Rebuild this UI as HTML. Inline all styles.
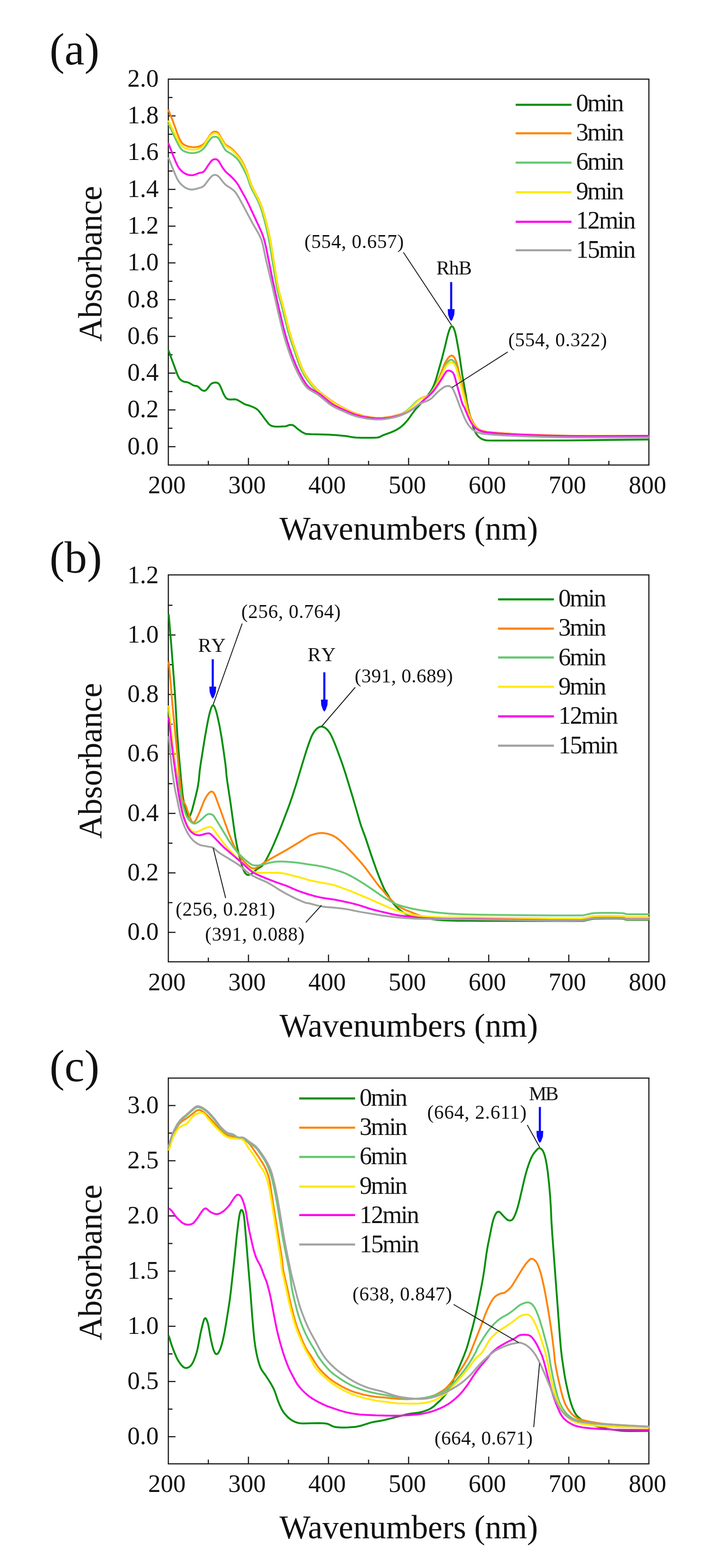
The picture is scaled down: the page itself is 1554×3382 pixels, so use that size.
<!DOCTYPE html>
<html lang="en">
<head>
<meta charset="utf-8">
<title>UV-vis absorbance spectra</title>
<style>
html,body{margin:0;padding:0;background:#fff;}
body{width:1554px;height:3382px;overflow:hidden;}
svg{display:block;font-family:'Liberation Serif', 'DejaVu Serif', serif;}
</style>
</head>
<body>
<svg width="1554" height="3382" viewBox="0 0 1554 3382">
<rect width="1554" height="3382" fill="#ffffff"/>
<g id="chart-a">
<g stroke="#1c1c1c" stroke-width="2.5" fill="none">
<line x1="363.3" y1="963.4" x2="378.8" y2="963.4"/>
<line x1="363.3" y1="884.1" x2="378.8" y2="884.1"/>
<line x1="363.3" y1="804.8" x2="378.8" y2="804.8"/>
<line x1="363.3" y1="725.6" x2="378.8" y2="725.6"/>
<line x1="363.3" y1="646.3" x2="378.8" y2="646.3"/>
<line x1="363.3" y1="567" x2="378.8" y2="567"/>
<line x1="363.3" y1="487.8" x2="378.8" y2="487.8"/>
<line x1="363.3" y1="408.5" x2="378.8" y2="408.5"/>
<line x1="363.3" y1="329.2" x2="378.8" y2="329.2"/>
<line x1="363.3" y1="250" x2="378.8" y2="250"/>
<line x1="363.3" y1="923.7" x2="372.3" y2="923.7"/>
<line x1="363.3" y1="844.5" x2="372.3" y2="844.5"/>
<line x1="363.3" y1="765.2" x2="372.3" y2="765.2"/>
<line x1="363.3" y1="685.9" x2="372.3" y2="685.9"/>
<line x1="363.3" y1="606.7" x2="372.3" y2="606.7"/>
<line x1="363.3" y1="527.4" x2="372.3" y2="527.4"/>
<line x1="363.3" y1="448.1" x2="372.3" y2="448.1"/>
<line x1="363.3" y1="368.9" x2="372.3" y2="368.9"/>
<line x1="363.3" y1="289.6" x2="372.3" y2="289.6"/>
<line x1="363.3" y1="210.3" x2="372.3" y2="210.3"/>
<line x1="536.2" y1="1003" x2="536.2" y2="987.5"/>
<line x1="709" y1="1003" x2="709" y2="987.5"/>
<line x1="881.9" y1="1003" x2="881.9" y2="987.5"/>
<line x1="1054.8" y1="1003" x2="1054.8" y2="987.5"/>
<line x1="1227.6" y1="1003" x2="1227.6" y2="987.5"/>
<line x1="449.7" y1="1003" x2="449.7" y2="994"/>
<line x1="622.6" y1="1003" x2="622.6" y2="994"/>
<line x1="795.5" y1="1003" x2="795.5" y2="994"/>
<line x1="968.3" y1="1003" x2="968.3" y2="994"/>
<line x1="1141.2" y1="1003" x2="1141.2" y2="994"/>
<line x1="1314.1" y1="1003" x2="1314.1" y2="994"/>
<rect x="363.3" y="170.7" width="1037.2" height="832.3"/>
</g>
<clipPath id="clip-a"><rect x="361.3" y="170.7" width="1040.2" height="832.3"/></clipPath>
<g clip-path="url(#clip-a)" fill="none" stroke-width="4.0" stroke-linejoin="round" stroke-linecap="butt">
<path stroke="#008f08" d="M363.2,754.6 383.3,809 385,812.7 387,816.1 388.9,818.4 391.2,820.3 393.7,821.9 396.5,823.1 398.4,823.6 403.3,824.3 406.2,825.1 408.9,826.3 415.8,830.4 418.5,831.6 420.4,832.1 424.4,832.5 426.2,833.2 428.6,834.9 432.8,839.2 435.2,841 437.8,842.4 439.7,842.9 440.6,843 441.6,842.9 443.4,842.3 445.7,840.5 447.7,838.2 453.6,830.1 455.7,828.1 457.3,826.9 460.1,825.8 464,825.1 467,825.2 469.8,826 472.2,827.8 473.4,829.3 474.5,831 476.6,835.5 481.2,846.6 483.2,851.1 486.3,856.3 487.5,857.9 488.9,859.3 491.4,860.8 494.2,861.6 497.2,861.7 506.2,861.2 509.2,861.6 511.1,862.1 514.7,863.9 525.8,870.5 528.5,871.9 530.3,872.6 536.1,874.2 539.9,875.5 547.3,878.5 552.6,881.3 555.9,883.6 559.3,887.2 563,891.9 570.7,902.4 579.9,914.2 582.9,916.8 585.5,918.3 589.4,919.4 593.3,919.9 598.3,920.2 605.3,920.1 616.3,919.4 618.2,919.1 622.8,917.1 624.7,916.6 627.7,916.4 630.6,916.7 632.5,917.2 635.1,918.7 643.4,925.9 652.4,932.3 656.8,934.6 659.6,935.6 661.6,935.9 671.5,936.5 709.5,937.6 725.5,938.6 746.4,940.5 751.4,941.3 761.2,943.1 768.2,943.8 780.2,944.2 794.2,944.3 805.2,944.2 813.2,943.8 816.1,943.5 819,942.7 827,938.6 843,932.8 849.5,930.1 854.9,927.5 859.2,925 863.4,922.3 867.3,919.2 873.1,913.7 879.1,907 882.2,903.1 889.7,892.4 896.9,882.8 898.9,880.6 903.1,876.3 917.6,859.8 923.9,852 928.6,845.5 932.3,839.6 935,834.2 937.7,827.8 940.4,820.2 943.3,810.7 953.6,774.1 960.6,747 965.4,726.5 967.5,718.8 970,711.2 972,706.6 973.1,705 973.7,704.3 974.5,703.9 975.3,703.8 976.1,704 977.5,705.1 979.1,707.6 980.3,710.3 982.4,717 984.8,727.8 990.2,757.3 997.5,806.8 1005.8,854 1007.7,866.9 1011.2,883.6 1015.7,902 1018.4,911.7 1021.1,920.2 1023.5,926.8 1026,932.3 1028.5,936.6 1031.6,940.5 1035.3,943.9 1038.6,946.1 1041.3,947.4 1044.1,948.5 1048.9,949.7 1053.9,950.1 1064.9,950.3 1221,950.1 1301,949 1401,948"/>
<path stroke="#ff8402" d="M363.2,236.5 372.9,260.6 382.4,287 387.3,299 389,302.6 391,306.1 393.5,309.2 395.8,311.1 399.2,313.2 403.8,315.1 408.6,316.5 413.6,317.3 418.5,317.5 423.5,317.2 428.4,316.2 432.2,314.9 435,313.7 437.5,312.2 439.9,310.4 442,308.3 443.9,305.9 448.6,298.3 453.1,291.7 455.5,288.5 457.6,286.3 460.1,284.7 461.9,284.1 464.9,283.9 466.8,284.2 467.8,284.5 469.5,285.4 470.9,286.8 472.2,288.3 482.8,306.4 484.4,308.9 486.3,311.3 487.7,312.7 489.3,313.9 495.4,317.3 497.9,319 501.6,322.3 505.9,326.5 511.3,332.4 516.4,338.6 519.8,343.5 522.9,348.6 527.9,358.5 533,370.4 535,376.1 540.5,393.2 543.8,401.6 547.7,409.7 557.4,428.3 561.6,437.4 565.9,448.6 570,462 573.7,475.5 577.1,489.1 580.4,503.7 583.3,517.4 586,533.2 597.4,604.3 600,618.1 602.3,628.8 604.3,636.6 611.1,660.6 621.1,701.5 625.5,717.9 630.3,733.1 647.9,784.2 650.1,789.8 652.5,795.3 655.2,800.7 658.6,806.8 662.4,812.7 666.3,818.5 671,824.9 675.4,830.4 682.8,838.5 687.1,842.7 691.6,846.7 702.6,855.4 715.6,864.7 724.8,870.7 735.2,876.7 746.7,882.8 756.7,887.5 765.9,891.3 775.4,894.5 785,897.2 793.8,899.1 802.7,900.5 811.7,901.4 819.6,901.6 826.6,901.2 835.6,900.1 846.4,898.1 858.1,895.3 865.7,892.9 869.4,891.4 872.9,889.5 876.3,887.4 879.5,885 888.6,877.1 899.8,865.7 905.3,861.4 908.6,859.2 912.2,857.5 918.9,855.5 922.6,854 927.6,850.8 930.5,848 932.9,844.8 934.9,841.4 938.2,835.2 942.1,827 950.3,808.8 958.7,787.4 960.7,782.8 962.5,779.3 966.3,773.4 969.6,769.6 971.1,768.4 972.8,767.4 974.7,767 975.7,767.1 976.6,767.4 978.2,768.4 979.6,769.8 980.8,771.4 982.2,774 983.5,776.8 985.8,783.4 988.1,792.1 994.7,820.3 1006.3,866.9 1009.9,882.5 1011.8,889.2 1014.6,896.7 1017.3,903.2 1020.2,909.6 1022.5,914 1025.3,918.2 1027.8,921.2 1030.7,924 1034.1,926.2 1038.6,928.3 1043.3,930 1049.1,931.2 1059.1,932.3 1076,933.8 1094,935.1 1114,936.2 1162.9,938.1 1208.9,939.4 1242.9,939.9 1401,940"/>
<path stroke="#66c874" d="M363.2,266.2 381.5,305.2 385.6,313.2 388.1,317.5 390.4,320.7 393.2,323.6 395.7,325.3 399.3,327 404,328.6 408.9,329.7 412.8,330.2 416.8,330.2 420.8,329.8 425.7,328.7 429.4,327.4 432.1,326 435.5,323.9 437.8,322 440.7,319.2 443.8,315.3 448,308.5 450.9,304.4 453.9,300.5 456.6,297.5 459,295.8 460.8,295 463.7,294.7 466.7,295 468.5,295.7 469.3,296.2 470.8,297.5 472.1,299 474.7,303.3 483.9,319.9 485.5,322.4 486.8,323.9 488.2,325.3 489.8,326.5 495.9,329.9 500.1,332.7 505,336.2 508.8,339.4 511.6,342.2 514.1,345.3 517,349.4 520.1,354.5 526.4,365.9 532.1,377.6 534.6,384.1 538.6,396.5 541.7,403.9 544.7,410.2 554,427.9 557.9,436 562.7,448.1 567,461.4 570.7,474.9 574.1,488.5 577.5,503.1 580.6,517.8 583.4,533.6 595.1,606.6 597.4,619.4 599.8,630.2 602,638.9 608.6,662 618.6,702.8 623.3,720.1 628.1,735.4 636.3,759 643,778.9 646,787.4 648.3,793 650.8,798.4 653.5,803.7 657,809.8 660.8,815.7 666,823 670.2,828.6 674.7,834 678.8,838.4 683,842.7 692,850.6 703.9,859.8 717,868.9 726.4,874.7 736.9,880.5 747.6,885.9 756.7,890.1 765.1,893.4 774.5,896.5 783.2,898.9 792,900.8 800.9,902.1 808.9,902.9 816.9,903.1 823.9,902.8 832.8,901.7 842.6,899.9 854.3,897.2 862,894.9 866.6,893 870.2,891.2 873.6,889.1 876.8,886.7 886.6,878.2 897.1,867.4 900.1,864.9 903.4,862.5 906.8,860.4 909.4,859.1 911.3,858.4 917.1,856.8 919.8,855.6 924,852.9 927.7,849.6 930.9,845.7 935.9,838.2 941.6,828.8 947.6,818.4 952.1,809.5 960.3,790.2 963.2,784.9 966.1,780.8 968.8,778 971.3,776.4 973.2,775.9 974.1,776 976,776.5 977.6,777.6 979,779 980.2,780.6 982.6,784.9 985,791.5 988,802.1 1003.9,864.1 1005.5,870.9 1008.7,886.6 1010.5,892.3 1013.4,899.7 1016.2,906.2 1019.4,912.4 1021.9,916.7 1024.8,920.8 1027.5,923.8 1030.5,926.3 1034,928.3 1038.5,930.4 1043.3,931.9 1048.2,932.7 1076.1,935.2 1110,937.4 1147,938.9 1215,940.7 1271,941.7 1318,942.1 1401,942"/>
<path stroke="#ffe905" d="M363.2,260 380.8,296 387,307.4 389.1,310.8 391.6,313.9 393.8,316 397.1,318.2 400.7,319.9 404.5,321.2 409.3,322.3 413.3,322.8 417.3,322.9 422.3,322.5 426.2,321.7 430,320.4 432.6,319 436,316.9 439,314.3 441.1,312.1 443.4,308.8 447.8,301 449.4,298.4 453,293.7 456.4,290 458.8,288.3 460.7,287.5 463.6,287.1 466.5,287.4 468.4,288.1 469.2,288.6 470.7,289.8 472,291.3 473.7,293.8 483.4,310.1 486.4,314.1 487.9,315.5 489.5,316.7 494.7,319.5 497.2,321.2 500.3,323.8 504.6,327.9 510.1,333.7 515.3,339.9 518.8,344.7 522,349.8 527.2,359.5 532.5,371.3 535,377.9 540.7,394.9 544.1,403.3 547.6,410.5 557.3,429.1 561.1,437.3 565.8,449.4 569.7,461.8 573.4,475.3 576.8,488.9 580.2,503.5 583.2,518.2 586,534 597.4,605.1 599.9,618.9 602.3,629.6 604.5,638.3 611.1,661.4 621.1,702.2 625.7,719.6 630.6,734.9 638.8,758.5 645.5,778.4 648.5,786.9 650.8,792.5 653.3,797.9 656,803.2 659.6,809.3 663.3,815.2 667.9,821.7 672.1,827.4 676.6,832.8 680.6,837.2 684.8,841.5 693.8,849.5 705.6,858.7 718.7,867.8 728.1,873.7 737.6,879.1 748.3,884.6 758.3,889.2 766.7,892.5 776.1,895.8 784.8,898.2 793.6,900.1 802.5,901.5 810.5,902.3 818.4,902.6 825.4,902.3 833.4,901.5 843.2,899.7 855,897.1 863.6,894.7 868.3,892.9 871.9,891.1 875.3,889.1 878.6,886.7 888.4,878.3 899.7,866.9 902.7,864.3 905.9,861.9 909.3,859.8 912,858.5 913.9,857.9 918.7,856.6 921.5,855.5 925.8,853 928.2,851.2 929.6,849.8 931.6,847.5 934,844.3 940,833.9 949.9,815.4 958.9,796.4 962.4,790.3 965.4,786.4 968.3,783.7 970.9,782.3 972.8,781.8 973.8,781.8 975.7,782.2 977.5,783 979.1,784.2 980.4,785.6 981.6,787.2 983,789.9 985.2,795.5 988.6,807 996.9,837.9 1005,869.9 1008.6,885.5 1011.2,893 1015.4,903.2 1018.4,909.5 1020.8,913.9 1023.5,918.1 1026,921.2 1028.9,924 1031.3,925.8 1034.8,927.7 1039.4,929.7 1044.2,931.1 1050.1,932.1 1083,934.9 1118.9,937 1164.9,938.7 1216.9,940.1 1254.9,940.8 1316,941 1401,941"/>
<path stroke="#ff05ee" d="M363.2,308.1 373.2,334.3 379.3,349.1 383.1,357.2 386.2,362.4 389.4,366.3 393.7,370.4 396,372.3 398.5,373.9 402.1,375.7 406.9,377.2 410.8,378 414.8,378 416.8,377.8 419.7,377 429.9,373.1 435.8,372 437.7,371.4 440.1,369.7 442.1,367.5 448.1,358.3 453.3,350.9 455.1,348.5 457.1,346.3 459.4,344.5 461.3,343.7 463.2,343.4 466.1,343.5 468,344 468.9,344.5 470.4,345.7 471.7,347.2 473.4,349.7 479.4,360.1 482.8,365.1 485.9,369 489.4,372.5 497,379 504.1,386.1 509.4,392.1 513.5,397.8 530.1,427.4 536.8,440.8 562.5,496.2 566,504.5 569,513 571.5,521.7 574,532.4 589.3,607.9 595.6,637.2 602.2,666.5 612,707.4 617.5,727.7 624.3,749.6 631.3,769.5 638,786.2 641.7,794.4 645.1,801.6 653.7,817.5 658.9,826 661.9,830 664.6,833 667.4,835.8 671.4,838.8 674.8,840.9 685.3,846.8 690.3,850.1 695.8,854.4 710.4,866.6 715.2,870.2 719.4,873 725.5,876.4 732.7,879.9 752.8,888.9 762,892.7 768.6,895 775.3,897 782.1,898.6 790,900.1 799.9,901.5 809.9,902.4 817.9,902.7 825.9,902.5 833.9,901.8 842.8,900.4 853.5,898.2 862.2,896 869.8,893.4 877.2,890.2 884.2,886.4 891.8,881.6 895.9,878.7 899.1,876.3 925,854.3 929.4,850.2 932.9,846.6 936.1,842.8 939.7,838 944.2,831.3 952.9,817.9 960,805.8 962.3,802.5 963.6,801.1 965.2,799.9 967,799.3 968.9,799.2 970.9,799.6 972.7,800.3 975.3,801.8 976.8,803.1 978,804.6 979.9,808.1 982.1,814.8 986,829.3 993.8,857.2 997.8,870.6 999,873.4 1001.1,876.8 1002.5,879.4 1010.5,898.8 1014.4,907 1016.9,911.3 1019.6,915.5 1022.7,919.4 1025.5,922.3 1028.5,924.9 1031,926.5 1034.6,928.3 1038.3,929.7 1045.1,931.5 1051,932.5 1063,933.7 1083.9,935.4 1101.9,936.6 1119.9,937.5 1168.9,939.2 1224.9,940.5 1269.9,941 1319,940.9 1401,940"/>
<path stroke="#a3a3a3" d="M363.2,339.2 371,358.7 378.2,376.3 381,382.7 383.7,388.1 387,393.1 391,397.6 396.2,402.2 398.7,404 401.2,405.5 404.9,407.1 408.7,408.3 411.7,408.7 415.7,408.7 419.6,408.2 423.5,407.3 433.1,404.6 436,403.6 438.6,402.1 441.5,399.5 449.9,388.3 453.7,383.6 456.4,380.7 458.7,378.8 460.5,377.9 462.4,377.3 465.3,377.3 468.1,378.1 469.8,379.1 471.4,380.3 474.1,383.2 482.8,394.2 485.5,397.2 489.3,400.4 498.6,406.3 503.4,410 505.6,412 507.6,414.2 511.2,419 515.3,425.9 526.3,446.1 546,483.2 558.2,503.9 561.7,511.1 564.6,518.5 566.3,524.3 567.8,530.1 574.2,560.5 588.3,619.8 600,671.6 606.7,699.8 610.8,716.3 616.5,736.5 623.6,758.4 630.5,777.2 637,792.9 643.6,806.4 651.7,821.3 656.6,828.9 659,832.1 661.6,835.1 664.5,837.8 668.5,840.8 682.4,848.9 687.4,852.2 692.9,856.5 708.3,869.3 713.1,872.9 718.2,876 723.5,878.9 729.8,882 755.4,893.3 761,895.4 766.7,897.4 772.4,899 778.3,900.4 786.1,901.9 795.1,903.2 804,904.2 812,904.7 819,904.7 825,904.4 832,903.7 838.9,902.6 851.6,900 861.3,897.3 869.7,894.2 877.8,890.3 883.9,886.8 890.6,882.4 893.7,879.9 900.6,874.1 903.9,871.9 907.5,870.2 915,867.4 922.4,864.4 926,862.6 928.6,861.1 931,859.4 933.3,857.4 941.5,848.7 944.4,845.9 949.7,841.3 953.6,838.2 957.8,835.4 961.3,833.6 964.2,832.7 967.1,832.5 969.1,832.8 971,833.3 973.6,834.7 975.1,836 976.5,837.5 978.5,840.9 980.6,845.4 985.1,856.6 991.7,874.4 1000.9,897.7 1003.4,903.1 1005.6,907.6 1008.1,911.9 1010.7,916.2 1013.1,919.4 1015.7,922.5 1018.5,925.3 1021.6,927.8 1025,929.9 1028.6,931.6 1033.3,933.4 1037.1,934.5 1043,935.7 1051,936.6 1065.9,937.7 1085.9,938.9 1127.9,940.8 1180.9,942.4 1217.9,943.2 1244.9,943.5 1401,943.5"/>
</g>
<g font-size="54">
<text x="342.5" y="979.6" font-size="54" text-anchor="end" fill="#111111">0.0</text>
<text x="342.5" y="900.3" font-size="54" text-anchor="end" fill="#111111">0.2</text>
<text x="342.5" y="821" font-size="54" text-anchor="end" fill="#111111">0.4</text>
<text x="342.5" y="741.8" font-size="54" text-anchor="end" fill="#111111">0.6</text>
<text x="342.5" y="662.5" font-size="54" text-anchor="end" fill="#111111">0.8</text>
<text x="342.5" y="583.2" font-size="54" text-anchor="end" fill="#111111">1.0</text>
<text x="342.5" y="504" font-size="54" text-anchor="end" fill="#111111">1.2</text>
<text x="342.5" y="424.7" font-size="54" text-anchor="end" fill="#111111">1.4</text>
<text x="342.5" y="345.4" font-size="54" text-anchor="end" fill="#111111">1.6</text>
<text x="342.5" y="266.2" font-size="54" text-anchor="end" fill="#111111">1.8</text>
<text x="342.5" y="186.9" font-size="54" text-anchor="end" fill="#111111">2.0</text>
<text x="360.3" y="1064" font-size="54" text-anchor="middle" textLength="81" lengthAdjust="spacing" fill="#111111">200</text>
<text x="533.2" y="1064" font-size="54" text-anchor="middle" textLength="81" lengthAdjust="spacing" fill="#111111">300</text>
<text x="706" y="1064" font-size="54" text-anchor="middle" textLength="81" lengthAdjust="spacing" fill="#111111">400</text>
<text x="878.9" y="1064" font-size="54" text-anchor="middle" textLength="81" lengthAdjust="spacing" fill="#111111">500</text>
<text x="1051.8" y="1064" font-size="54" text-anchor="middle" textLength="81" lengthAdjust="spacing" fill="#111111">600</text>
<text x="1224.6" y="1064" font-size="54" text-anchor="middle" textLength="81" lengthAdjust="spacing" fill="#111111">700</text>
<text x="1397.5" y="1064" font-size="54" text-anchor="middle" textLength="81" lengthAdjust="spacing" fill="#111111">800</text>
</g>
<text x="603.2" y="1164" font-size="71" text-anchor="start" textLength="558" lengthAdjust="spacing" fill="#111111">Wavenumbers (nm)</text>
<text transform="translate(218.5 568.9) rotate(-90)" font-size="71" text-anchor="middle" textLength="336" lengthAdjust="spacing" fill="#111111">Absorbance</text>
<text x="107" y="138.5" font-size="97" text-anchor="start" fill="#111111">(a)</text>
</g>
<g id="chart-b">
<g stroke="#1c1c1c" stroke-width="2.5" fill="none">
<line x1="363.3" y1="2011" x2="378.8" y2="2011"/>
<line x1="363.3" y1="1882.7" x2="378.8" y2="1882.7"/>
<line x1="363.3" y1="1754.4" x2="378.8" y2="1754.4"/>
<line x1="363.3" y1="1626.2" x2="378.8" y2="1626.2"/>
<line x1="363.3" y1="1497.9" x2="378.8" y2="1497.9"/>
<line x1="363.3" y1="1369.6" x2="378.8" y2="1369.6"/>
<line x1="363.3" y1="1946.9" x2="372.3" y2="1946.9"/>
<line x1="363.3" y1="1818.6" x2="372.3" y2="1818.6"/>
<line x1="363.3" y1="1690.3" x2="372.3" y2="1690.3"/>
<line x1="363.3" y1="1562" x2="372.3" y2="1562"/>
<line x1="363.3" y1="1433.7" x2="372.3" y2="1433.7"/>
<line x1="363.3" y1="1305.5" x2="372.3" y2="1305.5"/>
<line x1="536.2" y1="2074.5" x2="536.2" y2="2059"/>
<line x1="709" y1="2074.5" x2="709" y2="2059"/>
<line x1="881.9" y1="2074.5" x2="881.9" y2="2059"/>
<line x1="1054.8" y1="2074.5" x2="1054.8" y2="2059"/>
<line x1="1227.6" y1="2074.5" x2="1227.6" y2="2059"/>
<line x1="449.7" y1="2074.5" x2="449.7" y2="2065.5"/>
<line x1="622.6" y1="2074.5" x2="622.6" y2="2065.5"/>
<line x1="795.5" y1="2074.5" x2="795.5" y2="2065.5"/>
<line x1="968.3" y1="2074.5" x2="968.3" y2="2065.5"/>
<line x1="1141.2" y1="2074.5" x2="1141.2" y2="2065.5"/>
<line x1="1314.1" y1="2074.5" x2="1314.1" y2="2065.5"/>
<rect x="363.3" y="1240" width="1037.2" height="834.5"/>
</g>
<clipPath id="clip-b"><rect x="361.3" y="1240" width="1040.2" height="834.5"/></clipPath>
<g clip-path="url(#clip-b)" fill="none" stroke-width="4.0" stroke-linejoin="round" stroke-linecap="butt">
<path stroke="#008f08" d="M364.1,1324.6 369.6,1390.4 376.5,1481.1 378.2,1506.1 381.9,1571 383.8,1599.9 386.7,1634.8 392.2,1696.5 394.1,1714.4 396,1726.3 398.1,1735 404.1,1755.2 405.3,1759 406.2,1760.7 406.7,1761.4 407.4,1761.7 408.1,1761.7 408.7,1761.4 409.3,1760.7 410.3,1759 413.2,1751.6 415,1745.9 422.5,1716.8 425.9,1702.2 427.9,1691.4 429,1683.5 431,1662.5 433.4,1645.7 442.1,1591.4 445.6,1571.7 448.5,1556 450.6,1546.2 452.4,1538.4 454.3,1531.7 456.2,1526 457.5,1523.3 458.6,1521.8 459.3,1521.3 460.1,1521.2 460.8,1521.4 461.5,1521.9 463.1,1524.4 464.5,1528.1 467,1535.7 469,1543.4 473.7,1565 477.9,1588.6 482.1,1616.3 486.4,1647 487.5,1656.9 488.9,1672.8 490.4,1684.7 497.9,1734.2 506.1,1793.6 508.3,1807.5 510.6,1820.2 513,1832 516.3,1845.6 519.3,1857.2 522.5,1867.8 524.8,1874.4 527.2,1879.9 529.3,1883.3 530.6,1884.8 532.1,1886 533.8,1886.9 534.8,1887 536.7,1887 539.6,1886.2 542.3,1884.9 544.8,1883.3 546.4,1882.1 554.5,1874.7 557,1873.1 562.3,1870.2 564.7,1868.4 567.4,1865.5 570.8,1860.6 574.9,1853.7 579.5,1844.8 584.9,1834.1 589.1,1825 601.6,1795.6 609.7,1775.1 623.9,1737.7 630.8,1717.9 639.4,1691.2 652.6,1647.2 661.5,1618.5 667.3,1601.5 671.2,1591.2 673.7,1585.7 676.1,1581.3 678.8,1577.2 682.1,1573.4 685,1570.7 688.4,1568.5 690.2,1567.8 692.1,1567.3 695.1,1567.2 697,1567.6 698.9,1568.3 700.6,1569.2 703.1,1570.9 706.8,1574.2 710.5,1578.9 713.7,1584.1 716.8,1590.3 721.5,1601.3 725.6,1611.6 737.7,1644.4 745.3,1667.2 760.2,1715.9 770.1,1749.5 776.7,1772.6 779.7,1782.1 788.7,1806.5 801.3,1844.5 811.9,1874.7 818.7,1892.4 827.6,1913.7 830.6,1919.9 833.9,1925 841.6,1937.8 845.4,1943.7 849.6,1949.3 854.8,1955.4 859.9,1960.2 866.1,1965.2 871.9,1969.1 877.3,1971.8 882.9,1974 889.6,1975.7 900.4,1977.9 943,1984 956,1985 969.9,1985.6 989.9,1985.9 1032.9,1986.2 1255,1986.6 1258,1986.5 1260.9,1986 1276.5,1982.4 1280.5,1981.8 1287.4,1981.4 1306.4,1981.2 1329.4,1981.2 1343.4,1981.5 1346.4,1982 1351,1983.6 1353,1983.9 1356,1984.1 1401,1984"/>
<path stroke="#ff8402" d="M364.1,1427.3 368,1468.1 370.8,1504 372.6,1524.9 382.4,1622.5 388.1,1682.2 391.6,1714 392.6,1720.9 393.7,1724.8 395,1727.5 398.8,1733.3 400.6,1736.9 402.3,1741.6 408.3,1759.6 412.7,1769.7 414.1,1772.4 415.4,1773.8 416.1,1774.2 417,1774.4 417.8,1774.3 419.4,1773.3 420.7,1771.8 422.8,1768.5 425.1,1764 431.8,1749.5 440.1,1728.1 442.8,1722.7 445.8,1717.5 448.1,1714.2 450.6,1711.1 452.7,1709 454.4,1707.9 456.2,1707.3 457.1,1707.3 458.9,1707.9 460.4,1709.1 462.6,1712.4 465.1,1717.9 476.5,1748.9 491.6,1791.2 500,1812.7 503.1,1820 506.1,1826.3 510.3,1834.3 514.9,1842.1 519.2,1848.8 523.3,1854.5 527.2,1859 532.2,1864 537.5,1868.5 541.6,1871.3 543.4,1872.2 545.3,1872.8 548.2,1873.2 551.2,1872.7 553.9,1871.6 561.5,1866.8 570.5,1860.4 575.5,1857.2 620,1832.2 644,1817.7 663.5,1805.5 668.7,1802.5 671.4,1801.4 677.2,1799.6 682,1798.3 685.9,1797.5 688.9,1797 692.9,1796.8 696.9,1796.8 700.8,1797.2 705.8,1798.1 711.5,1799.6 717.1,1801.8 721.6,1804.1 726.6,1807.3 732.2,1811.6 738.2,1816.8 744,1822.3 764,1843.4 774.7,1855.3 782.5,1864.4 790,1873.8 813.2,1905.1 818.7,1912.2 823.6,1917.3 832.4,1928.1 837.7,1934.1 847.4,1944.2 854,1950.4 857.9,1953.4 862.1,1956.1 866.6,1958.5 874.7,1962.4 900.7,1972.8 906.3,1974.8 912.1,1976.5 918,1977.7 926.9,1978.5 939.9,1979.2 955.9,1979.6 1029.9,1980.2 1181.9,1981 1255.9,1981.1 1260.9,1980.5 1279.4,1976.4 1284.4,1976 1295.4,1975.8 1322.4,1975.7 1342.4,1976 1346.4,1976.5 1350.1,1977.8 1352,1978.3 1356,1978.6 1401,1978.5"/>
<path stroke="#66c874" d="M364.1,1530 370.2,1587.7 373.7,1616.5 379.4,1655.1 388.7,1711.4 389.9,1718.3 391.3,1724.1 396.1,1741.5 400.1,1753.8 402,1758.5 403.8,1762.1 405.9,1765.5 407.6,1767.9 410.3,1770.9 412.5,1773 414.9,1774.8 416.6,1775.7 418.5,1776.3 420.4,1776.3 422.3,1775.9 424.1,1775.1 429.3,1772.1 431.6,1770.2 443.4,1759.4 445.8,1757.6 447.5,1756.6 450.3,1755.7 453.3,1755.7 456.2,1756.4 458.9,1757.7 461.1,1759.7 462.8,1762.1 478.6,1787.6 489.8,1806.6 494.5,1814.2 500.8,1823.3 506.8,1831.3 511.3,1836.7 515.3,1841.1 519.5,1845.5 524.5,1850.3 532.1,1856.9 536.7,1860.6 540.8,1863.5 544.4,1865.3 547.2,1866.2 550.2,1866.7 553.2,1866.7 558.2,1866.4 563.1,1865.6 584.5,1860.4 591.4,1859.1 596.3,1858.5 602.3,1858.2 609.3,1858.2 616.3,1858.4 627.3,1859.2 644.2,1861.1 668,1864.7 684.8,1867.1 696.6,1869.2 710.3,1872.4 725.7,1876.8 738,1880.8 747.3,1884.5 757.2,1889.4 770.2,1896.8 784.7,1905.7 803.9,1918.5 821.9,1931.1 829.5,1936 844.1,1944.6 850.4,1947.8 855.8,1950.3 862.4,1952.7 869.1,1954.8 883.6,1958.5 892.4,1960.5 900.3,1962 911.1,1963.8 936.9,1967.5 950.8,1969 965.8,1970.3 982.7,1971.3 1004.7,1972.2 1041.8,1973 1126.8,1973.9 1190.8,1974.5 1255.9,1974.5 1260.8,1973.9 1276.4,1970.3 1280.4,1969.7 1286.4,1969.3 1300.4,1969.1 1324.4,1969.1 1342.4,1969.4 1346.3,1969.9 1350.1,1971.2 1352,1971.7 1356,1972 1401,1971.9"/>
<path stroke="#ffe905" d="M364.1,1521.9 369.5,1576.7 372.9,1608.5 380.8,1674 386.5,1717.7 387.9,1725.6 389.6,1733.4 391.9,1743.1 394.8,1753.8 397.3,1762.4 399.5,1769.1 401.3,1773.7 403.4,1778.3 405.4,1781.7 407,1784.2 409.5,1787.4 412.2,1790.3 414.5,1792.2 416.2,1793.3 419,1794.4 420.9,1794.7 423.9,1794.6 426.7,1793.7 434.9,1789.8 443.1,1786.2 448.7,1784.2 451.7,1783.6 453.6,1783.5 455.5,1783.9 457.2,1784.9 459.3,1787 461.2,1789.3 477.1,1811.1 484.4,1820.7 494.1,1832.1 504.9,1843.9 516.8,1856.1 530.9,1868.9 535.5,1872.7 539.4,1875.8 542.8,1878 546.3,1879.9 549.1,1881 551,1881.4 554,1881.8 560,1882.2 569,1882.4 598,1882.5 605,1882.9 610.9,1883.6 615.8,1884.5 646.9,1892.2 654.6,1894.3 664.1,1897.6 668.9,1898.8 695.4,1904.1 711.2,1906.9 720,1908.9 726.7,1910.9 734.3,1913.5 751.1,1919.8 763.2,1924.6 793.7,1937.3 829.3,1953.2 842.2,1958.6 852.5,1962.6 866.7,1967.4 878.3,1970.7 890,1973.2 901.9,1974.9 927.8,1977.4 938.8,1978 951.8,1978.4 1039.8,1978.9 1188.9,1981.1 1255.9,1981.1 1260.8,1980.5 1279.4,1976.4 1284.4,1976 1294.4,1975.8 1321.4,1975.7 1342.4,1976 1346.3,1976.5 1350.1,1977.8 1352,1978.3 1356,1978.6 1401,1978.5"/>
<path stroke="#ff05ee" d="M364.1,1547.6 370.7,1605.2 374.1,1633 379.5,1672.7 385.5,1712.3 391.4,1742.7 393.3,1751.5 395.1,1758.3 397.9,1766.9 400.7,1774.3 404,1781.6 406.8,1786.9 408.5,1789.5 410.3,1791.8 412.3,1794 414.6,1796 417.1,1797.7 419.7,1799.2 422.4,1800.3 424.4,1800.9 428.3,1801.5 432.3,1801.4 436.2,1800.5 444.8,1797.9 448.7,1797.4 451.7,1797.6 454.3,1798.8 456.7,1800.7 458.9,1802.7 476.2,1820.7 484.8,1829.1 522.1,1861 534.6,1872.5 539.9,1877.1 544.7,1880.6 550.8,1884.2 556.2,1886.8 570.9,1893.2 593.2,1901.9 619.7,1911.2 637.1,1918.8 647.3,1922.8 662.5,1928 676.9,1932.2 685.6,1934.4 694.4,1936.3 700.3,1937.3 716.2,1939.5 724.1,1940.8 738.8,1943.7 754.5,1947.1 766.1,1950 775.8,1952.6 796.7,1959.5 805.3,1962 818.9,1965.4 847.2,1972 855.1,1973.5 863,1974.7 894.8,1978.5 905.7,1979.5 921.7,1980.4 940.7,1981.3 958.7,1981.8 974.7,1982 1014.7,1982 1039.8,1982.2 1158.8,1984.6 1192.8,1985.1 1255.9,1985.1 1260.8,1984.5 1279.4,1980.4 1284.4,1980 1293.4,1979.8 1320.4,1979.7 1342.4,1980 1346.3,1980.5 1350.1,1981.8 1352,1982.3 1356,1982.6 1401,1982.5"/>
<path stroke="#a3a3a3" d="M364.1,1588.1 369.7,1645.8 371.3,1659.8 373.3,1674.6 375.7,1690.4 378.4,1706.2 381.9,1721.8 387,1747.3 389.1,1756.1 391.6,1764.7 394.5,1773.3 397.7,1781.7 401,1789 404.6,1796.1 408.3,1802.1 412.4,1807.7 416.4,1812.2 420.9,1816.2 425.8,1819.5 430.3,1821.8 433.1,1822.9 436.9,1823.9 455.7,1827.1 457.6,1827.6 460.3,1828.9 463.5,1831.2 471.1,1837.7 475.2,1840.6 483.6,1845.9 509.3,1861.5 515.1,1865.3 520.7,1869.6 533.4,1880.9 537.4,1883.9 541.6,1886.6 547.7,1890 555.8,1894.1 573.2,1901.6 579.5,1904.7 591.5,1911.9 603.3,1919.5 616.3,1926.9 626.9,1932.6 641.3,1939.6 655.9,1945.9 659.7,1947.2 667.6,1948.5 686,1953.4 694.8,1955.2 702.7,1956.3 718.6,1957.6 733.6,1959.1 745.5,1960.6 753.4,1961.9 770,1965.4 778.9,1967.1 825.2,1974.7 841.1,1976.8 858,1978.7 873,1979.9 896.9,1981.5 916.9,1982 1036.9,1983.2 1161.9,1985.3 1201.9,1985.7 1256.9,1985.6 1261.9,1984.8 1276.5,1981.4 1279.4,1980.9 1284.4,1980.5 1293.4,1980.3 1320.4,1980.2 1342.4,1980.5 1346.4,1981 1350.1,1982.3 1352,1982.8 1356,1983.1 1401,1983"/>
</g>
<g font-size="54">
<text x="342.5" y="2027.2" font-size="54" text-anchor="end" fill="#111111">0.0</text>
<text x="342.5" y="1898.9" font-size="54" text-anchor="end" fill="#111111">0.2</text>
<text x="342.5" y="1770.6" font-size="54" text-anchor="end" fill="#111111">0.4</text>
<text x="342.5" y="1642.4" font-size="54" text-anchor="end" fill="#111111">0.6</text>
<text x="342.5" y="1514.1" font-size="54" text-anchor="end" fill="#111111">0.8</text>
<text x="342.5" y="1385.8" font-size="54" text-anchor="end" fill="#111111">1.0</text>
<text x="342.5" y="1257.5" font-size="54" text-anchor="end" fill="#111111">1.2</text>
<text x="360.3" y="2135.5" font-size="54" text-anchor="middle" textLength="81" lengthAdjust="spacing" fill="#111111">200</text>
<text x="533.2" y="2135.5" font-size="54" text-anchor="middle" textLength="81" lengthAdjust="spacing" fill="#111111">300</text>
<text x="706" y="2135.5" font-size="54" text-anchor="middle" textLength="81" lengthAdjust="spacing" fill="#111111">400</text>
<text x="878.9" y="2135.5" font-size="54" text-anchor="middle" textLength="81" lengthAdjust="spacing" fill="#111111">500</text>
<text x="1051.8" y="2135.5" font-size="54" text-anchor="middle" textLength="81" lengthAdjust="spacing" fill="#111111">600</text>
<text x="1224.6" y="2135.5" font-size="54" text-anchor="middle" textLength="81" lengthAdjust="spacing" fill="#111111">700</text>
<text x="1397.5" y="2135.5" font-size="54" text-anchor="middle" textLength="81" lengthAdjust="spacing" fill="#111111">800</text>
</g>
<text x="603.2" y="2235.5" font-size="71" text-anchor="start" textLength="558" lengthAdjust="spacing" fill="#111111">Wavenumbers (nm)</text>
<text transform="translate(218.5 1641) rotate(-90)" font-size="71" text-anchor="middle" textLength="336" lengthAdjust="spacing" fill="#111111">Absorbance</text>
<text x="107" y="1234.5" font-size="97" text-anchor="start" fill="#111111">(b)</text>
</g>
<g id="chart-c">
<g stroke="#1c1c1c" stroke-width="2.5" fill="none">
<line x1="363.3" y1="3098.8" x2="378.8" y2="3098.8"/>
<line x1="363.3" y1="2979.8" x2="378.8" y2="2979.8"/>
<line x1="363.3" y1="2860.7" x2="378.8" y2="2860.7"/>
<line x1="363.3" y1="2741.7" x2="378.8" y2="2741.7"/>
<line x1="363.3" y1="2622.6" x2="378.8" y2="2622.6"/>
<line x1="363.3" y1="2503.6" x2="378.8" y2="2503.6"/>
<line x1="363.3" y1="2384.5" x2="378.8" y2="2384.5"/>
<line x1="363.3" y1="3039.3" x2="372.3" y2="3039.3"/>
<line x1="363.3" y1="2920.2" x2="372.3" y2="2920.2"/>
<line x1="363.3" y1="2801.2" x2="372.3" y2="2801.2"/>
<line x1="363.3" y1="2682.1" x2="372.3" y2="2682.1"/>
<line x1="363.3" y1="2563.1" x2="372.3" y2="2563.1"/>
<line x1="363.3" y1="2444" x2="372.3" y2="2444"/>
<line x1="536.2" y1="3157.3" x2="536.2" y2="3141.8"/>
<line x1="709" y1="3157.3" x2="709" y2="3141.8"/>
<line x1="881.9" y1="3157.3" x2="881.9" y2="3141.8"/>
<line x1="1054.8" y1="3157.3" x2="1054.8" y2="3141.8"/>
<line x1="1227.6" y1="3157.3" x2="1227.6" y2="3141.8"/>
<line x1="449.7" y1="3157.3" x2="449.7" y2="3148.3"/>
<line x1="622.6" y1="3157.3" x2="622.6" y2="3148.3"/>
<line x1="795.5" y1="3157.3" x2="795.5" y2="3148.3"/>
<line x1="968.3" y1="3157.3" x2="968.3" y2="3148.3"/>
<line x1="1141.2" y1="3157.3" x2="1141.2" y2="3148.3"/>
<line x1="1314.1" y1="3157.3" x2="1314.1" y2="3148.3"/>
<rect x="363.3" y="2325.3" width="1037.2" height="832"/>
</g>
<clipPath id="clip-c"><rect x="361.3" y="2325.3" width="1040.2" height="832"/></clipPath>
<g clip-path="url(#clip-c)" fill="none" stroke-width="4.0" stroke-linejoin="round" stroke-linecap="butt">
<path stroke="#008f08" d="M364.1,2880.5 369.6,2898.7 375.8,2915.6 380.9,2927.6 383.1,2932.1 385.7,2936.4 388.4,2940.5 391.6,2944.4 395.1,2948 397.5,2949.7 399.3,2950.4 400.3,2950.6 402.2,2950.6 404.2,2950.3 406.9,2949.2 408.7,2948.2 411,2946.3 413,2944.1 414.7,2941.6 416.6,2938.1 418.3,2934.5 421.6,2926.1 424.3,2917.6 426.3,2909.8 428.1,2901 432.7,2876.4 435.6,2863.7 438,2854 439.7,2848.3 441.2,2844.6 442.4,2843.3 443.1,2843.2 443.8,2843.3 445,2844.6 446.3,2847.2 447.7,2851 449.1,2855.8 450.5,2862.7 453.9,2882.4 455.7,2891.2 458.9,2904.8 460.2,2909.6 461.6,2913.4 463.7,2917.9 464.9,2919.5 466.4,2920.5 467.3,2920.7 468.1,2920.6 469,2920.3 470.4,2919 472.1,2916.6 474.4,2912.1 476.2,2907.5 478.3,2900.8 480.4,2893.1 482.6,2883.3 484.8,2872.6 488.9,2848.9 495.1,2809.4 498.1,2786.6 505.9,2716 511,2665.2 514.7,2634.4 516.5,2622.6 518,2615.7 518.9,2612.9 519.7,2611.1 520.8,2609.8 521.5,2609.7 522.2,2610 523.3,2611.3 524.4,2614 525.3,2616.9 526.5,2622.8 527.7,2632.7 530.9,2669.6 535.6,2728.4 540.6,2788.2 544.6,2842.1 547.3,2873 548.7,2886.9 550.3,2899.8 552.2,2911.7 554.1,2921.5 556.4,2931.2 558.8,2939.9 561,2946.5 563.3,2952.1 565.8,2956.4 572.3,2965.2 580,2977 584.8,2984.6 588.2,2990.7 590.5,2995.1 592.5,2999.7 594.6,3005.4 600,3021.5 603.4,3029.8 606.3,3036.2 608.6,3040.6 611.2,3044.9 614.1,3048.9 618.1,3053.4 621.6,3057 624.7,3059.6 627.9,3062 631.2,3064.1 634.7,3066 637.5,3067.2 641.3,3068.5 645.2,3069.4 650.1,3070.1 655.1,3070.3 673.1,3069.8 690.1,3069.6 700.1,3069.9 704.1,3070.4 707,3071.1 710.7,3072.6 717.8,3076.2 720.6,3077.2 724.6,3078 729.5,3078.6 736.5,3078.9 743.5,3079 751.5,3078.8 765.5,3077.7 770.4,3077 775.3,3076 782.1,3074.2 796.4,3069.7 803.1,3067.7 809,3066.5 822.8,3064.3 829.7,3062.9 877.2,3050.8 885,3049.3 900.9,3047.3 907.8,3046 913.6,3044.4 918.4,3042.9 923,3041.1 926.7,3039.5 931,3037 935.9,3033.5 939.6,3030.2 952.1,3018.7 955.5,3015 961.2,3008 964.8,3003.2 968.1,2998.2 971.1,2993 974.6,2985.8 992.4,2945.6 1001.6,2923.4 1007.5,2907.5 1012,2892.1 1020.9,2859.3 1025.2,2841.8 1029.5,2822.3 1038.8,2776.2 1042.6,2755.5 1045.1,2739.7 1049.8,2705 1052.6,2688.2 1062.5,2639.2 1064.8,2630.5 1067.5,2623 1069.7,2618.5 1072.1,2615.3 1073.6,2614.1 1074.4,2613.7 1076.3,2613.5 1078.1,2614 1079.7,2615.2 1085.6,2621.9 1090.5,2626.9 1094.2,2630.3 1096.7,2631.8 1099.5,2632.6 1101.5,2632.6 1102.5,2632.4 1103.4,2632.1 1105.1,2631.1 1106.5,2629.8 1107.7,2628.2 1110.1,2623.8 1112.5,2618.3 1115.2,2610.8 1117.9,2602.2 1121.1,2589.6 1133.1,2538 1137.7,2521.6 1142.5,2507.4 1145.1,2500.9 1147.6,2495.4 1150,2491 1152.2,2487.7 1155.3,2483.8 1160.7,2477.9 1162.4,2476.9 1163.3,2476.6 1165.1,2476.6 1166.1,2476.9 1167.8,2477.8 1169.3,2479.1 1170.6,2480.6 1172.6,2484 1174.8,2489.6 1176.8,2496.3 1178.7,2505.1 1180.4,2515 1182.1,2526.8 1185.1,2553.7 1187.4,2580.6 1188.7,2600.6 1190.4,2637.5 1192.1,2663.5 1208.7,2886.9 1210.9,2911.8 1212.8,2927.7 1215.8,2948.5 1218.6,2966.3 1221.3,2981.1 1225.3,2999.7 1228.8,3014.2 1232.1,3025.8 1235.7,3036.2 1239.3,3044.4 1242.8,3050.5 1245.2,3053.6 1247.3,3055.8 1252.6,3060.3 1258.4,3064.3 1264.6,3067.5 1276.7,3072.3 1289,3076.5 1299.6,3079.4 1311.4,3081.9 1328.2,3084.6 1338.1,3085.8 1347.1,3086.4 1358.1,3086.7 1401.1,3086.5"/>
<path stroke="#ff8402" d="M364.1,2477.8 370,2457.7 373.4,2448.3 376.7,2441 379.9,2434.8 382.9,2429.6 386.4,2424.7 389,2421.7 392,2419 403.7,2411.3 414.9,2402.9 422.7,2396.6 426.1,2394.7 429,2394.1 431.9,2394.5 434.6,2395.8 439.7,2399 443.5,2402.1 447.9,2406.3 452.7,2411.3 474.1,2435.2 480.7,2441.3 486.9,2446.3 490.4,2448.3 493.1,2449.4 501,2451 513.4,2454.7 516.4,2455.1 521.4,2455.3 523.3,2455.7 525.2,2456.4 527.8,2457.9 530.2,2459.6 534.8,2463.5 539,2467.8 543.3,2473.3 559.6,2497.3 567.1,2509.1 570.6,2515.2 573.7,2521.5 576.7,2528.9 579,2535.5 580.9,2542.3 582.2,2548.1 583.2,2554 587.2,2581.7 607.7,2709.2 609.2,2720.1 610.5,2734 611.5,2740.9 613.4,2749.8 619.4,2775.1 626.3,2807.4 629.8,2822 633.5,2836.5 637,2849 640,2858.6 643.3,2868 647.2,2878.3 652.9,2892.2 656.5,2900.4 660,2907.6 663.1,2912.8 671.1,2924.3 681,2940.5 686,2948 690.4,2953.4 695.2,2958.6 700.8,2964.2 707.5,2970.2 712.9,2974.7 718.6,2978.8 724.4,2982.7 731.3,2986.8 738.3,2990.7 745.4,2994.4 751.7,2997.4 758.2,3000.1 763.8,3002.2 770.5,3004.3 785,3008.1 797.7,3010.7 813.5,3013.2 826.5,3014 848.4,3016.3 860.4,3017.2 875.4,3017.8 889.4,3017.6 904.3,3016.6 911.3,3015.8 918.2,3014.7 928,3012.6 932.8,3011.2 936.6,3009.8 940.2,3008.3 944.7,3006.1 954.3,3000.6 957.6,2998.3 960.7,2995.9 965.7,2991 971.6,2984.2 983.4,2969.3 990.1,2960.5 995.2,2953.1 1002.2,2942.2 1008.3,2931.8 1012.4,2923.8 1016,2915.5 1038.2,2859.8 1047.3,2835.4 1050.7,2827.1 1054,2819.8 1057.6,2812.6 1060.5,2807.4 1063.1,2803.1 1065.5,2799.9 1067.5,2797.7 1069.8,2795.7 1072.2,2794 1075.8,2792.1 1079.4,2790.4 1081.3,2789.8 1087.2,2788.8 1089.9,2787.7 1094.8,2784.2 1099.9,2779.5 1103.2,2775.7 1106.7,2770.8 1125.9,2739.2 1129.7,2733.3 1133.8,2727.6 1138.8,2721.4 1143,2717.1 1145.4,2715.4 1146.3,2715.2 1148.2,2715.1 1151,2716.1 1152.7,2717.1 1154.3,2718.3 1157,2721.3 1159.6,2725.5 1162,2731 1164.7,2738.5 1167.3,2747.1 1169.8,2756.8 1173.6,2773.4 1177.1,2791.1 1181.5,2815.7 1185.8,2841.3 1189.4,2865.1 1191.9,2883.9 1195.4,2912.7 1197,2929.7 1197.8,2936.6 1199.7,2948.5 1202.4,2962.2 1205.5,2976.9 1210.1,2996.4 1212.8,3007 1215.3,3015.7 1217.9,3023.2 1220.7,3029.7 1224,3035.9 1227.7,3041.8 1232,3047.3 1236.1,3051.7 1240.7,3055.5 1245.8,3058.7 1249.4,3060.5 1254.1,3062.2 1270.7,3065.9 1280.5,3067.7 1296.3,3070.3 1310.2,3072 1325.2,3073.1 1349.1,3074.6 1401.1,3077.3"/>
<path stroke="#66c874" d="M364.1,2473.8 369.9,2454.7 373.4,2445.3 376.2,2438.9 379.4,2432.7 382.9,2426.6 386.3,2421.6 389.4,2417.7 392.9,2414.2 419.4,2391.3 421.9,2389.6 423.6,2388.7 425.5,2388.1 427.5,2388 429.4,2388.2 431.4,2388.7 434.1,2389.8 437.7,2391.6 443.6,2395.4 449,2399.8 453.2,2404.1 459.2,2410.9 464.8,2417.8 472.7,2428.2 475.9,2432 481.5,2437.7 486.9,2442.2 489.4,2443.8 492.1,2445.1 495,2446 500.8,2447.3 503.6,2448.4 506.2,2449.8 511.2,2453.2 513.9,2454.4 516.8,2454.7 520.8,2454.4 522.8,2454.5 524.7,2454.9 526.5,2455.8 529.8,2458 538.4,2464.8 548.9,2472.5 553.3,2476.6 557.1,2481.2 569,2498.5 572.1,2503.6 574.9,2509 578.5,2517.2 582,2526.6 585.2,2536 587.9,2545.7 591.9,2563.2 595.4,2580.9 599.1,2601.6 607.7,2653.9 611.4,2675.5 614.6,2692.2 622.1,2728.5 624.8,2742.2 626.7,2754.1 629,2772.9 630.9,2783.8 635.4,2804.3 640.8,2825.6 645.4,2840.9 650.4,2855.1 654.1,2864.4 658.1,2873.6 662.4,2882.6 666.5,2890.6 670.5,2897.5 679.9,2912.9 684.4,2921.8 685.8,2924.4 688.7,2928.5 694.6,2936.6 700.8,2944.4 706,2950.5 710.8,2955.6 715.9,2960.4 722.1,2965.4 730.3,2971.2 738.6,2976.8 747.1,2982 757.7,2987.7 767.7,2992.3 779.8,2996.9 786.5,2999.1 792.2,3000.8 801.9,3003.2 816.6,3006.4 851.1,3012.5 863.9,3014.4 872.8,3015.5 883.8,3016.4 895.8,3016.7 905.8,3016.4 913.8,3015.5 922.6,3013.9 934.2,3010.9 941.8,3008.4 952,3004.2 957.4,3001.6 962.5,2998.4 967.2,2994.7 972.3,2989.9 979.3,2982.8 985.3,2976.1 992.4,2967.6 1001.7,2955.9 1006.5,2949.5 1010.5,2943.7 1019,2930.2 1026.9,2916.3 1027.8,2914.5 1029.5,2909.8 1031.3,2906.3 1038.3,2894.1 1044.6,2883.9 1050.2,2875.6 1056.1,2867.5 1061.1,2861.3 1065.8,2856.1 1072.3,2849.9 1079.4,2844.3 1084.4,2841.1 1094.1,2835.8 1099.9,2832 1108.8,2825.5 1118,2817.8 1122.1,2814.9 1127.4,2812.2 1132.1,2810.4 1137,2809.3 1139,2809.2 1140.9,2809.3 1143.8,2810.2 1147.1,2812.3 1150,2815 1153,2819 1155.5,2823.3 1158.4,2829.7 1161.3,2837.1 1164.4,2845.6 1167.7,2856.1 1171.6,2869.5 1178.6,2895.6 1182.8,2912.1 1184.9,2921.9 1187.3,2938.7 1192.7,2967.2 1198.6,2993.5 1203.1,3011 1204.8,3016.7 1206.8,3022.4 1209.1,3027.9 1211.3,3032.4 1214.2,3037.7 1217,3041.8 1219.9,3045.8 1223.2,3049.6 1226.9,3053 1230.8,3056.1 1235.9,3059.3 1240.4,3061.6 1245,3063.4 1250.7,3065.1 1257.6,3066.7 1264.4,3068 1283.3,3070.4 1298.2,3071.7 1339.2,3074.3 1401.1,3077.6"/>
<path stroke="#ffe905" d="M364.1,2481.9 370,2462.8 373.2,2454.4 376.2,2448 379.1,2442.8 381.7,2438.5 384.7,2434.5 387.4,2431.6 390.7,2429.3 393.4,2428.1 399.9,2425.6 401.7,2424.7 403.3,2423.6 404.8,2422.3 406.8,2420 413.3,2411.1 416.8,2407.6 419.9,2405 422.4,2403.4 425.1,2402.1 428.9,2400.9 431.8,2400.3 434.8,2400.1 436.8,2400.4 438.6,2401.1 441,2402.8 443.1,2405 447.3,2410.6 449.8,2413.7 459.9,2424.8 468.1,2433.5 473.8,2439.1 479.8,2444.5 484.3,2448.4 488.4,2451.3 491.9,2453.1 495.8,2454.1 503.7,2455.3 512.7,2456.3 518.6,2456.7 520.6,2457.1 522.5,2457.7 524.2,2458.6 525.8,2459.9 527.7,2462.1 529.4,2464.6 535.5,2474.9 545.5,2488.7 548.9,2493.6 552,2498.8 559.9,2512.7 562.1,2516.1 566.8,2522.5 569,2525.8 570.9,2529.4 573.2,2534.9 575.5,2541.5 577.8,2549.2 580,2557.9 581.5,2564.8 586.3,2592.4 605.2,2710.9 606.6,2720.8 607.9,2734.8 609.2,2742.7 616.7,2774.8 623.7,2808.1 628.7,2828.5 632.6,2843 636,2854.5 639.5,2865 643.3,2875.3 650.9,2893.8 657.7,2908.3 661,2914.5 668.6,2927.4 677,2943.4 679.6,2947.6 682.5,2951.7 687,2957 692.6,2962.8 699.9,2969.6 708.2,2976.8 714.5,2981.7 720.2,2985.8 727.8,2990.7 735.5,2995.3 747,3001.5 757,3006 768.3,3010.1 781.7,3014.1 797.2,3018 813.9,3021.4 817.8,3022 827.8,3023.1 845.6,3025.6 856.6,3026.7 869.5,3027.3 890.6,3027.6 903.6,3027.3 912.5,3026.5 921.4,3025 930.1,3022.8 936.8,3020.6 942.2,3018.1 948.4,3014.8 953.5,3011.7 958.5,3008.3 962.4,3005.2 966.9,3001.2 971.8,2996.2 978,2989.6 983.3,2983.7 1009.3,2953.2 1013.6,2947.7 1023,2934.8 1026.7,2930.1 1030.2,2926.5 1037.1,2920.7 1040.4,2917 1044.4,2911.2 1052.7,2896.4 1056.4,2890.4 1061.4,2884.2 1067.1,2878.5 1073.1,2873.3 1077.1,2870.3 1089.7,2862.2 1103.9,2852.8 1108.8,2849.2 1117.4,2842.4 1120.7,2840.1 1124.2,2838.2 1128.8,2836.4 1133.7,2835.4 1137.7,2835.2 1140.6,2835.9 1143.1,2837.4 1146.1,2840.1 1148.6,2843.2 1151.2,2847.4 1154.4,2853.7 1158.2,2861.9 1161.6,2870.2 1164.8,2878.6 1168.6,2890 1174.9,2910 1177.2,2917.7 1180.2,2930.4 1185.5,2957.9 1188.3,2970.6 1193.8,2992.9 1196.3,3001.5 1198.7,3009.2 1202.1,3018.6 1205,3026.1 1207.8,3032.5 1210.9,3038.7 1214,3043.9 1216.9,3048 1220,3051.8 1224.3,3056.1 1228,3059.4 1231.3,3061.8 1234.7,3063.8 1239.2,3066 1243.8,3067.8 1249.6,3069.6 1254.4,3070.7 1260.4,3071.6 1290.1,3075.5 1307.1,3076.9 1334.1,3078 1401.1,3079.7"/>
<path stroke="#ff05ee" d="M364.1,2606.2 368.1,2609.1 370.3,2611.2 372.8,2614.3 378.4,2622.6 380.9,2625.7 387.2,2632.1 392.5,2636.7 396.7,2639.4 400.4,2640.8 404.3,2641.4 406.3,2641.5 409.3,2641.2 412.2,2640.6 415,2639.5 417.5,2637.8 419.6,2635.7 426.4,2627.1 435.2,2613.7 438.9,2609 441.2,2607.1 443,2606.5 443.9,2606.5 445.7,2607.1 447.3,2608.2 451.8,2612.3 454.2,2614 458.6,2616.3 462.3,2617.9 465.2,2618.6 467.2,2618.8 470.1,2618.6 473,2617.8 477.5,2615.6 481.7,2612.9 485.5,2609.7 489.8,2605.5 493.2,2601.8 496.3,2597.9 505,2584.5 508.1,2580.6 510.2,2578.4 511.8,2577.3 512.7,2577 514.6,2576.8 515.5,2577.1 517.2,2578 519.3,2580.1 520.5,2581.7 522,2584.3 524.3,2589.8 527.1,2598.3 529.7,2608 531.7,2617.8 535.3,2640.5 538.6,2657.2 544.7,2684.5 547.6,2696.2 549.8,2703.9 551.7,2709.6 553.5,2714.2 555.7,2718.7 561,2728.4 563.9,2734.7 570.8,2753.5 574.7,2762.7 577.4,2771.3 581.2,2785.8 584.5,2800.4 593.8,2849.6 597.4,2867.2 600.4,2879.9 604.7,2896.3 610.1,2914.5 615.1,2929.7 620,2942.8 623.1,2950.2 626,2956.6 638.6,2980.5 640.6,2984 642.9,2987.3 649.2,2995 654,3000.1 659.1,3004.9 664.3,3009.5 669.1,3013.2 674.9,3017 680.9,3020.6 688.9,3024.9 696.9,3028.9 706.1,3032.8 717.4,3036.9 734.5,3042.6 746,3045.9 755.8,3048 766.7,3049.7 776.6,3050.9 789.6,3051.8 811.6,3052.8 839.6,3053.4 859.6,3053.4 875.6,3052.8 896.5,3051.2 910.4,3049.5 916.3,3048.4 923.1,3046.9 928.9,3045.3 934.6,3043.5 943.1,3040.3 952.3,3036.5 958.6,3033.5 964.8,3030.1 970.6,3026.3 977,3021.5 983.9,3015.7 989.8,3010.2 993.3,3006.7 997.3,3002.2 1005.3,2992 1009.4,2986.3 1022,2967.1 1029.6,2956.5 1037.6,2946.3 1053.2,2928 1059.1,2920 1063.4,2915.8 1069.4,2910.6 1075.8,2905.7 1081.7,2901.9 1096.6,2893.8 1111,2886.7 1113.5,2885.1 1117.4,2882 1120,2880.5 1122.9,2879.6 1126.8,2879 1131.8,2878.7 1135.8,2878.9 1139.7,2879.4 1141.6,2880 1143.5,2880.8 1146,2882.5 1148.8,2885.3 1153,2890.8 1156.8,2896.7 1160.6,2903.8 1165.3,2913.7 1169.7,2923.8 1173.5,2935.2 1176.7,2946.7 1184,2975.8 1187.3,2988.4 1193.5,3008.5 1199.4,3025.5 1205.9,3041.2 1208.4,3046.7 1210.8,3051.1 1213.5,3055.2 1216,3058.4 1218.7,3061.3 1222.5,3064.6 1226.5,3067.5 1231.7,3070.6 1236.1,3072.9 1240.7,3074.8 1245.5,3076.3 1251.4,3077.6 1258.2,3078.9 1265.2,3079.8 1275.1,3080.7 1292.1,3081.9 1323.1,3083.4 1350.1,3084.1 1401.1,3084.6"/>
<path stroke="#a3a3a3" d="M364.1,2472.4 370,2452.3 373.4,2442.9 376.3,2436.5 379.5,2430.3 383,2424.2 386.4,2419.3 389.6,2415.4 393.1,2411.9 402.4,2404.2 419.7,2389.1 422.1,2387.3 423.9,2386.4 425.8,2385.9 427.7,2385.9 429.7,2386.2 431.6,2386.8 437.9,2389.9 443.7,2393.7 449.9,2398.8 454.8,2403.8 462,2412.1 465.7,2416.8 472.8,2426.5 476,2430.3 482.3,2436.8 485.3,2439.4 487.6,2441.3 490.2,2442.9 492.9,2444.1 500.7,2446 503.5,2447 506.1,2448.4 511,2451.9 513.6,2453.2 516.5,2453.6 522.5,2453.2 524.4,2453.5 527.1,2454.7 530.5,2456.9 538.4,2463 549.2,2470.2 552.9,2473.5 556.9,2478 565.2,2489.3 569.7,2495.9 572.9,2501 578.3,2510.6 581.4,2516.9 583.8,2522.4 586.1,2529 588.1,2535.7 593.3,2557.1 597.3,2576.7 601.6,2600.3 610.5,2654.6 614.4,2677.3 621.3,2712.6 628.7,2747.9 631.8,2760.5 642.1,2800.2 645.6,2812.7 648,2820.4 650.9,2828.9 658.5,2848.5 664.9,2863.1 671.2,2875.7 680.5,2892.3 689.3,2909.1 693.2,2916.1 697.4,2922.9 702.7,2930.2 707.9,2936.3 714,2942.8 721.2,2949.8 727.3,2955 734.4,2960.5 743.4,2966.9 752.5,2973 761.1,2978.2 769,2982.6 777.1,2986.5 785.4,2990 793.8,2993.1 804.3,2996.3 824.8,3001.2 831.4,3003.3 848.5,3009.2 854.2,3010.8 860.1,3012.2 869.9,3014.1 880.8,3015.6 891.7,3016.8 901.7,3017.5 908.7,3017.5 915.7,3017.1 922.6,3016.2 930.5,3014.7 937.3,3013 944.9,3010.5 952.4,3007.7 958.8,3004.8 967.7,3000.2 979.9,2993.4 987.5,2988.7 993.3,2984.7 998.9,2980.4 1004.2,2976 1010.2,2970.6 1015.3,2965.8 1020.7,2959.9 1029,2949.9 1033,2945.4 1039.9,2938.2 1046.3,2931.9 1052.3,2926.5 1058.4,2921.4 1065.4,2915.8 1069.5,2912.9 1074.9,2910.2 1083.9,2906 1091.3,2902.8 1096.9,2900.8 1103.7,2898.9 1116.4,2896.2 1119.4,2895.8 1122.3,2896 1126.2,2897 1130.9,2898.8 1134.4,2900.6 1138.6,2903.4 1143.2,2907.3 1147.4,2911.5 1151.3,2916.1 1154.8,2920.9 1158,2926.1 1161.8,2933.1 1166.2,2942.1 1171.2,2953 1179.1,2971.3 1197.2,3015.8 1200.1,3022.2 1203.7,3029.4 1206.6,3034.6 1209.3,3038.8 1212.2,3042.9 1214.7,3046 1218.1,3049.7 1221,3052.4 1224.1,3055 1228.2,3057.8 1231.6,3059.9 1235.2,3061.7 1238.9,3063.2 1242.7,3064.4 1247.5,3065.7 1253.4,3066.9 1265.3,3068.6 1284.2,3070.3 1308.2,3071.6 1352.1,3074.5 1401.1,3077"/>
</g>
<g font-size="54">
<text x="342.5" y="3115" font-size="54" text-anchor="end" fill="#111111">0.0</text>
<text x="342.5" y="2995.9" font-size="54" text-anchor="end" fill="#111111">0.5</text>
<text x="342.5" y="2876.9" font-size="54" text-anchor="end" fill="#111111">1.0</text>
<text x="342.5" y="2757.8" font-size="54" text-anchor="end" fill="#111111">1.5</text>
<text x="342.5" y="2638.8" font-size="54" text-anchor="end" fill="#111111">2.0</text>
<text x="342.5" y="2519.8" font-size="54" text-anchor="end" fill="#111111">2.5</text>
<text x="342.5" y="2400.7" font-size="54" text-anchor="end" fill="#111111">3.0</text>
<text x="360.3" y="3218.3" font-size="54" text-anchor="middle" textLength="81" lengthAdjust="spacing" fill="#111111">200</text>
<text x="533.2" y="3218.3" font-size="54" text-anchor="middle" textLength="81" lengthAdjust="spacing" fill="#111111">300</text>
<text x="706" y="3218.3" font-size="54" text-anchor="middle" textLength="81" lengthAdjust="spacing" fill="#111111">400</text>
<text x="878.9" y="3218.3" font-size="54" text-anchor="middle" textLength="81" lengthAdjust="spacing" fill="#111111">500</text>
<text x="1051.8" y="3218.3" font-size="54" text-anchor="middle" textLength="81" lengthAdjust="spacing" fill="#111111">600</text>
<text x="1224.6" y="3218.3" font-size="54" text-anchor="middle" textLength="81" lengthAdjust="spacing" fill="#111111">700</text>
<text x="1397.5" y="3218.3" font-size="54" text-anchor="middle" textLength="81" lengthAdjust="spacing" fill="#111111">800</text>
</g>
<text x="603.2" y="3318.3" font-size="71" text-anchor="start" textLength="558" lengthAdjust="spacing" fill="#111111">Wavenumbers (nm)</text>
<text transform="translate(218.5 2723.1) rotate(-90)" font-size="71" text-anchor="middle" textLength="336" lengthAdjust="spacing" fill="#111111">Absorbance</text>
<text x="107" y="2332" font-size="97" text-anchor="start" fill="#111111">(c)</text>
</g>
<line x1="1113" y1="226" x2="1233.5" y2="226" stroke="#008f08" stroke-width="4.6"/>
<text x="1243.2" y="239.8" font-size="54" text-anchor="start" textLength="103.5" lengthAdjust="spacing" fill="#111111">0min</text>
<line x1="1113" y1="287.5" x2="1233.5" y2="287.5" stroke="#ff8402" stroke-width="4.6"/>
<text x="1243.2" y="303.1" font-size="54" text-anchor="start" textLength="103.5" lengthAdjust="spacing" fill="#111111">3min</text>
<line x1="1113" y1="350.8" x2="1233.5" y2="350.8" stroke="#66c874" stroke-width="4.6"/>
<text x="1243.2" y="366.4" font-size="54" text-anchor="start" textLength="103.5" lengthAdjust="spacing" fill="#111111">6min</text>
<line x1="1113" y1="414.6" x2="1233.5" y2="414.6" stroke="#ffe905" stroke-width="4.6"/>
<text x="1243.2" y="429.7" font-size="54" text-anchor="start" textLength="103.5" lengthAdjust="spacing" fill="#111111">9min</text>
<line x1="1113" y1="478.4" x2="1233.5" y2="478.4" stroke="#ff05ee" stroke-width="4.6"/>
<text x="1243.2" y="493" font-size="54" text-anchor="start" textLength="129" lengthAdjust="spacing" fill="#111111">12min</text>
<line x1="1113" y1="539.8" x2="1233.5" y2="539.8" stroke="#a3a3a3" stroke-width="4.6"/>
<text x="1243.2" y="556.3" font-size="54" text-anchor="start" textLength="129" lengthAdjust="spacing" fill="#111111">15min</text>
<text x="656.9" y="535" font-size="42" text-anchor="start" textLength="214.5" lengthAdjust="spacing" fill="#111111">(554, 0.657)</text>
<text x="1097" y="747.4" font-size="42" text-anchor="start" textLength="213" lengthAdjust="spacing" fill="#111111">(554, 0.322)</text>
<text x="941.7" y="591.5" font-size="43" text-anchor="start" textLength="76.7" lengthAdjust="spacing" fill="#111111">RhB</text>
<line x1="870.7" y1="544.2" x2="974.5" y2="701.3" stroke="#1a1a1a" stroke-width="2"/>
<line x1="1096" y1="759" x2="975.5" y2="836" stroke="#1a1a1a" stroke-width="2"/>
<line x1="973.8" y1="608.4" x2="973.8" y2="672.8" stroke="#0808ff" stroke-width="4.6"/>
<path d="M966.4,666.8 L981.2,666.8 L980.4,678.8 L976.8,688.8 L973.8,692.8 L970.8,688.8 L967.2,678.8 Z" fill="#0808ff"/>
<line x1="1075" y1="1292.7" x2="1195.5" y2="1292.7" stroke="#008f08" stroke-width="4.6"/>
<text x="1205.2" y="1308.1" font-size="54" text-anchor="start" textLength="103.5" lengthAdjust="spacing" fill="#111111">0min</text>
<line x1="1075" y1="1355.9" x2="1195.5" y2="1355.9" stroke="#ff8402" stroke-width="4.6"/>
<text x="1205.2" y="1371.4" font-size="54" text-anchor="start" textLength="103.5" lengthAdjust="spacing" fill="#111111">3min</text>
<line x1="1075" y1="1418.1" x2="1195.5" y2="1418.1" stroke="#66c874" stroke-width="4.6"/>
<text x="1205.2" y="1434.7" font-size="54" text-anchor="start" textLength="103.5" lengthAdjust="spacing" fill="#111111">6min</text>
<line x1="1075" y1="1481.2" x2="1195.5" y2="1481.2" stroke="#ffe905" stroke-width="4.6"/>
<text x="1205.2" y="1498" font-size="54" text-anchor="start" textLength="103.5" lengthAdjust="spacing" fill="#111111">9min</text>
<line x1="1075" y1="1545.1" x2="1195.5" y2="1545.1" stroke="#ff05ee" stroke-width="4.6"/>
<text x="1205.2" y="1561.3" font-size="54" text-anchor="start" textLength="129" lengthAdjust="spacing" fill="#111111">12min</text>
<line x1="1075" y1="1608.4" x2="1195.5" y2="1608.4" stroke="#a3a3a3" stroke-width="4.6"/>
<text x="1205.2" y="1624.6" font-size="54" text-anchor="start" textLength="129" lengthAdjust="spacing" fill="#111111">15min</text>
<text x="520.8" y="1332.7" font-size="42" text-anchor="start" textLength="214.5" lengthAdjust="spacing" fill="#111111">(256, 0.764)</text>
<text x="765.5" y="1471.6" font-size="42" text-anchor="start" textLength="212" lengthAdjust="spacing" fill="#111111">(391, 0.689)</text>
<text x="379" y="1974.9" font-size="42" text-anchor="start" textLength="214.8" lengthAdjust="spacing" fill="#111111">(256, 0.281)</text>
<text x="442.4" y="2029" font-size="42" text-anchor="start" textLength="214.9" lengthAdjust="spacing" fill="#111111">(391, 0.088)</text>
<text x="427.6" y="1405.7" font-size="43" text-anchor="start" textLength="59.4" lengthAdjust="spacing" fill="#111111">RY</text>
<text x="664" y="1425.7" font-size="43" text-anchor="start" textLength="60.5" lengthAdjust="spacing" fill="#111111">RY</text>
<line x1="522.7" y1="1344.9" x2="460" y2="1520" stroke="#1a1a1a" stroke-width="2"/>
<line x1="766.7" y1="1482.5" x2="694" y2="1567" stroke="#1a1a1a" stroke-width="2"/>
<line x1="460" y1="1828.6" x2="487" y2="1937" stroke="#1a1a1a" stroke-width="2"/>
<line x1="660" y1="1989.7" x2="694" y2="1952.4" stroke="#1a1a1a" stroke-width="2"/>
<line x1="459.2" y1="1421.9" x2="459.2" y2="1487" stroke="#0808ff" stroke-width="4.6"/>
<path d="M451.8,1481 L466.6,1481 L465.8,1493 L462.2,1503 L459.2,1507 L456.2,1503 L452.6,1493 Z" fill="#0808ff"/>
<line x1="700" y1="1450" x2="700" y2="1515" stroke="#0808ff" stroke-width="4.6"/>
<path d="M692.6,1509 L707.4,1509 L706.6,1521 L703,1531 L700,1535 L697,1531 L693.4,1521 Z" fill="#0808ff"/>
<line x1="645.9" y1="2369.2" x2="766.4" y2="2369.2" stroke="#008f08" stroke-width="4.6"/>
<text x="776.1" y="2384.7" font-size="54" text-anchor="start" textLength="103.5" lengthAdjust="spacing" fill="#111111">0min</text>
<line x1="645.9" y1="2432.2" x2="766.4" y2="2432.2" stroke="#ff8402" stroke-width="4.6"/>
<text x="776.1" y="2448" font-size="54" text-anchor="start" textLength="103.5" lengthAdjust="spacing" fill="#111111">3min</text>
<line x1="645.9" y1="2495.4" x2="766.4" y2="2495.4" stroke="#66c874" stroke-width="4.6"/>
<text x="776.1" y="2511.3" font-size="54" text-anchor="start" textLength="103.5" lengthAdjust="spacing" fill="#111111">6min</text>
<line x1="645.9" y1="2559.4" x2="766.4" y2="2559.4" stroke="#ffe905" stroke-width="4.6"/>
<text x="776.1" y="2574.6" font-size="54" text-anchor="start" textLength="103.5" lengthAdjust="spacing" fill="#111111">9min</text>
<line x1="645.9" y1="2620.8" x2="766.4" y2="2620.8" stroke="#ff05ee" stroke-width="4.6"/>
<text x="776.1" y="2637.9" font-size="54" text-anchor="start" textLength="129" lengthAdjust="spacing" fill="#111111">12min</text>
<line x1="645.9" y1="2684.3" x2="766.4" y2="2684.3" stroke="#a3a3a3" stroke-width="4.6"/>
<text x="776.1" y="2701.2" font-size="54" text-anchor="start" textLength="129" lengthAdjust="spacing" fill="#111111">15min</text>
<text x="922" y="2413" font-size="42" text-anchor="start" textLength="214.5" lengthAdjust="spacing" fill="#111111">(664, 2.611)</text>
<text x="760.8" y="2805.4" font-size="42" text-anchor="start" textLength="214.8" lengthAdjust="spacing" fill="#111111">(638, 0.847)</text>
<text x="937.8" y="3116" font-size="42" text-anchor="start" textLength="212" lengthAdjust="spacing" fill="#111111">(664, 0.671)</text>
<text x="1141.6" y="2373.4" font-size="43" text-anchor="start" textLength="64" lengthAdjust="spacing" fill="#111111">MB</text>
<line x1="1138" y1="2426.4" x2="1165" y2="2474.7" stroke="#1a1a1a" stroke-width="2"/>
<line x1="979" y1="2813.5" x2="1119.5" y2="2896" stroke="#1a1a1a" stroke-width="2"/>
<line x1="1164.6" y1="2940.5" x2="1152" y2="3078" stroke="#1a1a1a" stroke-width="2"/>
<line x1="1165.2" y1="2387.6" x2="1165.2" y2="2445.3" stroke="#0808ff" stroke-width="4.6"/>
<path d="M1157.8,2439.3 L1172.6,2439.3 L1171.8,2451.3 L1168.2,2461.3 L1165.2,2465.3 L1162.2,2461.3 L1158.6,2451.3 Z" fill="#0808ff"/>
</svg>
</body>
</html>
